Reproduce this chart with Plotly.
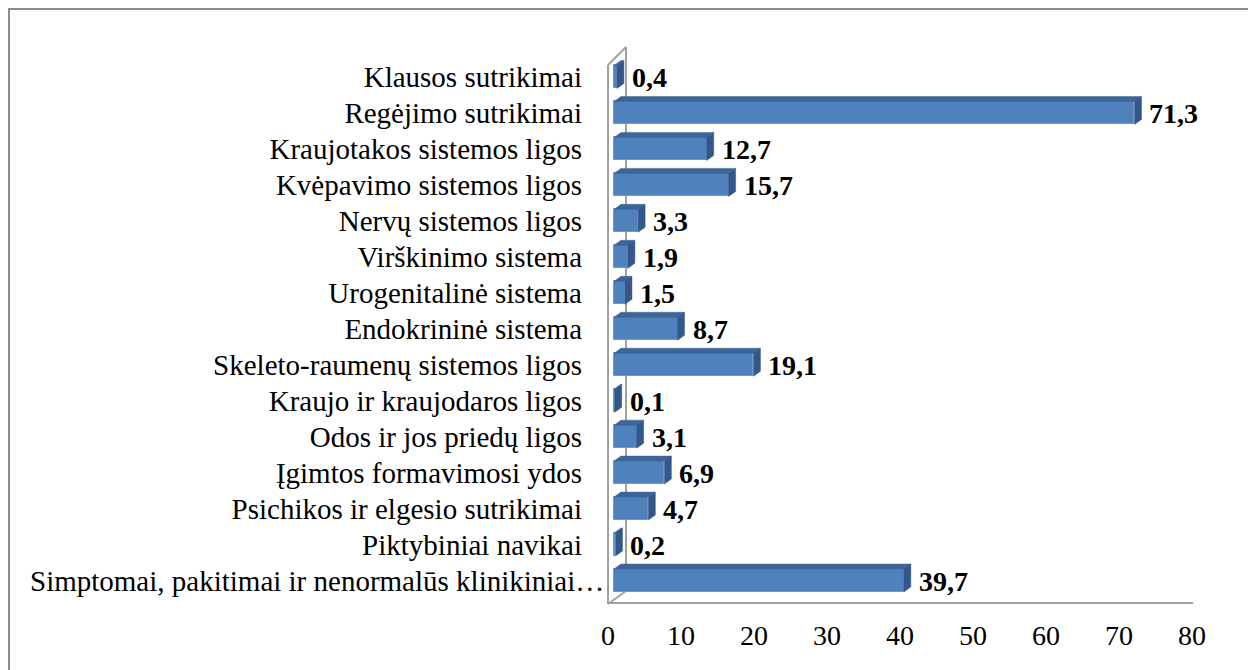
import plotly.graph_objects as go

categories = [
    "Simptomai, pakitimai ir nenormalūs klinikiniai…",
    "Piktybiniai navikai",
    "Psichikos ir elgesio sutrikimai",
    "Įgimtos formavimosi ydos",
    "Odos ir jos priedų ligos",
    "Kraujo ir kraujodaros ligos",
    "Skeleto-raumenų sistemos ligos",
    "Endokrininė sistema",
    "Urogenitalinė sistema",
    "Virškinimo sistema",
    "Nervų sistemos ligos",
    "Kvėpavimo sistemos ligos",
    "Kraujotakos sistemos ligos",
    "Regėjimo sutrikimai",
    "Klausos sutrikimai",
]
values = [39.7, 0.2, 4.7, 6.9, 3.1, 0.1, 19.1, 8.7, 1.5, 1.9, 3.3, 15.7, 12.7, 71.3, 0.4]
value_labels = ["39,7", "0,2", "4,7", "6,9", "3,1", "0,1", "19,1", "8,7", "1,5", "1,9",
                "3,3", "15,7", "12,7", "71,3", "0,4"]
x_ticks = [0, 10, 20, 30, 40, 50, 60, 70, 80]

# the page body has an 8px margin, so work in page pixels minus 8
OFF = 8
W, H = 1256 - OFF, 670 - OFF
L, R, T, B = 608 - OFF, 1192 - OFF, 48 - OFF, 604 - OFF  # plot area
PXX = (R - L) / 80.0
y_lo, y_hi = -0.653, 14.806
PXY = (B - T) / (y_hi - y_lo)

FRONT = "#4F81BD"
TOP = "#3D6596"
SIDE = "#34578A"
FONT = "Liberation Serif"

pos = list(range(len(categories)))
bw = 23 / PXY
dx = 7 / PXX
dy = 5 / PXY
X0 = 6 / PXX  # bars sit slightly behind the front plane

fig = go.Figure()

fig.add_trace(go.Bar(
    x=values, y=pos, base=X0, orientation="h", width=bw,
    marker=dict(color=FRONT, line=dict(color="#6E98CC", width=1)),
    hoverinfo="skip", showlegend=False,
))

tx, ty, sx, sy = [], [], [], []
for p, v in zip(pos, values):
    e = X0 + v
    yt = p + bw / 2
    yb = p - bw / 2
    tx += [X0, e, e + dx, X0 + dx, X0, None]
    ty += [yt, yt, yt + dy, yt + dy, yt, None]
    sx += [e, e, e + dx, e + dx, e, None]
    sy += [yb, yt, yt + dy, yb + dy, yb, None]
fig.add_trace(go.Scatter(x=tx, y=ty, mode="lines", fill="toself", fillcolor=TOP,
                         line=dict(color=TOP, width=0.5), hoverinfo="skip", showlegend=False))
fig.add_trace(go.Scatter(x=sx, y=sy, mode="lines", fill="toself", fillcolor=SIDE,
                         line=dict(color=SIDE, width=0.5), hoverinfo="skip", showlegend=False))

for p, v, lab in zip(pos, values, value_labels):
    fig.add_annotation(x=X0 + v, y=p, xref="x", yref="y", text="<b>" + lab + "</b>",
                       showarrow=False, xanchor="left", yanchor="middle", xshift=13, yshift=-1,
                       font=dict(family=FONT, size=28, color="black"))

def px_x(px):
    return (px - OFF - L) / (R - L)

def px_y(py):
    return (B - (py - OFF)) / (B - T)

# the truncated first category label overflows towards the wall, as in the original
tick_text = [""] + categories[1:]
fig.add_annotation(x=px_x(606), y=pos[0], xref="paper", yref="y", text=categories[0],
                   showarrow=False, xanchor="right", yanchor="middle",
                   font=dict(family=FONT, size=29, color="black"))

GRAY = "#A0A0A0"
shapes = [
    dict(type="rect", xref="paper", yref="paper", x0=px_x(9), x1=px_x(1290),
         y0=px_y(700), y1=px_y(9), line=dict(color="#8C8C8C", width=2)),
]
wall = [
    (608, 604, 608, 65), (608, 65, 626, 47), (626, 47, 626, 591),
    (608, 604, 626, 591), (608, 603, 1193, 603),
]
for x0, y0, x1, y1 in wall:
    shapes.append(dict(type="line", xref="paper", yref="paper", layer="below",
                       x0=px_x(x0), x1=px_x(x1), y0=px_y(y0), y1=px_y(y1),
                       line=dict(color=GRAY, width=2)))

fig.update_layout(
    width=W, height=H,
    margin=dict(l=L, r=W - R, t=T, b=H - B, pad=0, autoexpand=False),
    paper_bgcolor="white", plot_bgcolor="rgba(0,0,0,0)",
    font=dict(family=FONT, color="black"),
    shapes=shapes,
    xaxis=dict(range=[0, 80], tickvals=x_ticks, ticktext=[str(t) for t in x_ticks],
               showgrid=False, zeroline=False, showline=False, ticks="", automargin=False,
               tickfont=dict(family=FONT, size=28, color="black"), ticklabelstandoff=12),
    yaxis=dict(range=[y_lo, y_hi], tickvals=pos, ticktext=tick_text, automargin=False,
               showgrid=False, zeroline=False, showline=False, ticks="",
               tickfont=dict(family=FONT, size=29, color="black"), ticklabelstandoff=25),
    bargap=0,
)

fig.write_html("out.html")
